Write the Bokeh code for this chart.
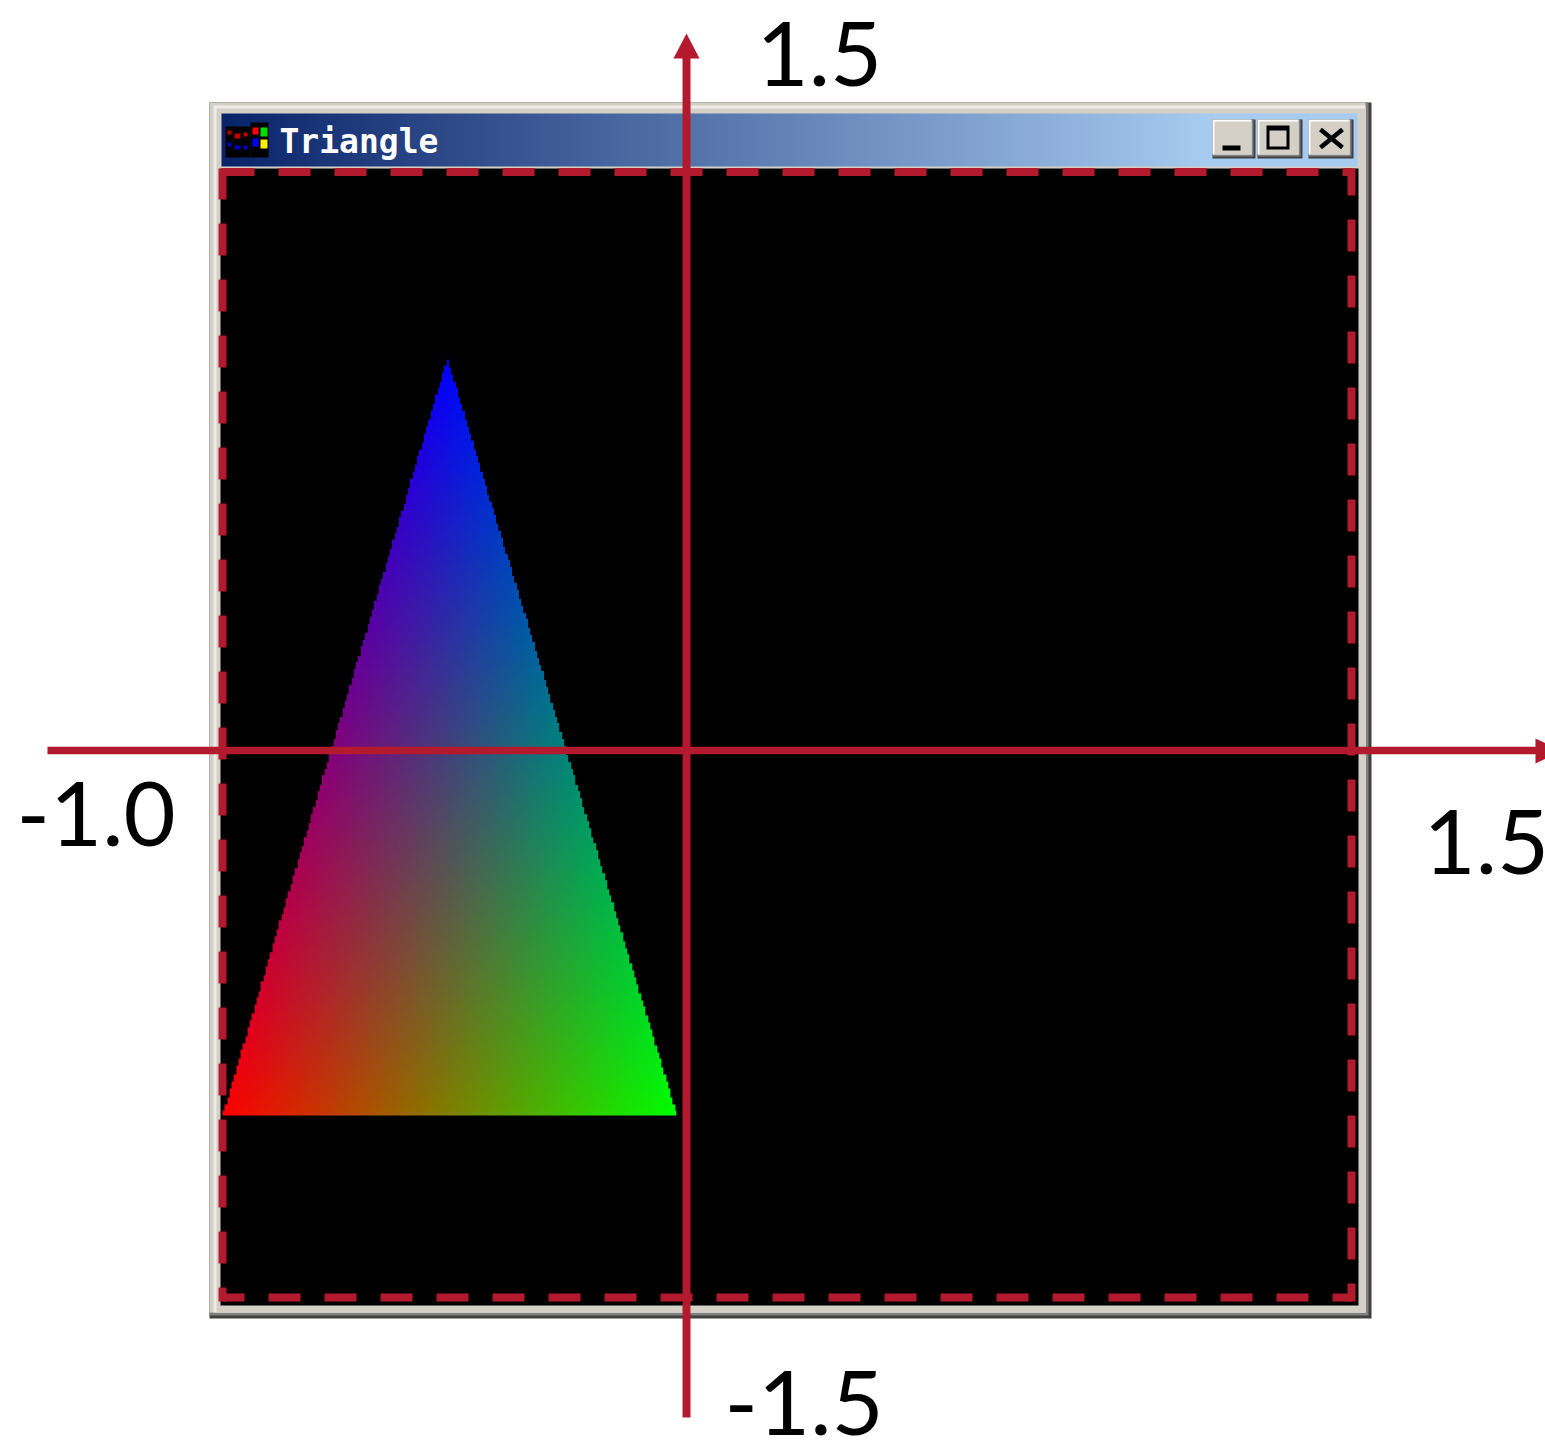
import numpy as np
from bokeh.plotting import figure
from bokeh.models import Range1d
from bokeh.core.properties import value
from bokeh.embed import file_html
from bokeh.resources import INLINE

# ---- values (OpenGL coordinates) ----
view_x = [-1.0, 1.5]
view_y = [-1.5, 1.5]
tri_x = [-1.0, 0.005, -0.503]
tri_y = [-1.015, -1.015, 1.0]
tri_rgb = [(255, 0, 0), (0, 255, 0), (0, 0, 255)]
axis_x_at = 0.0275
axis_y_at = -0.042
labels = ["1.5", "-1.0", "1.5", "-1.5"]
title = "Triangle"

RED = "#b41a2e"
FACE = "#d4d0c8"
W, H = 1545, 1445
OFF = 0
SX = 1129.0 / (view_x[1] - view_x[0])
SY = 1125.5 / (view_y[1] - view_y[0])
MID = 0.36  # half the digit height, as a fraction of the font size


def X(px):
    return view_x[0] + (px - 222.0) / SX


def Y(py):
    return view_y[1] - (py - 171.5) / SY


p = figure(width=W, height=H, output_backend="svg", toolbar_location=None,
           x_range=Range1d(X(OFF), X(OFF + W)), y_range=Range1d(Y(OFF + H), Y(OFF)),
           x_axis_location=None, y_axis_location=None, min_border=0,
           background_fill_color="white", border_fill_color="white",
           outline_line_color=None)
p.grid.visible = False


def box(x0, y0, x1, y1, color):
    p.quad(left=[X(x0)], right=[X(x1)], top=[Y(y0)], bottom=[Y(y1)],
           fill_color=color, line_color=None)


# ---- window frame ----
box(209, 102, 1371, 1318, "#404040")
box(209, 102, 1368, 1315, "#808080")
box(209, 102, 1365, 1312, FACE)
box(213, 105, 1365, 1312, "#eeece8")
box(216, 108, 1365, 1312, FACE)
box(220, 168, 1358, 1305, "black")

# ---- title bar gradient ----
c0 = np.array([10, 36, 106])
c1 = np.array([166, 202, 240])
n = 256
t = np.linspace(0, 1, n)
bar = np.zeros((1, n), dtype=np.uint32)
v = bar.view(dtype=np.uint8).reshape((1, n, 4))
for k in range(3):
    v[0, :, k] = (c0[k] + (c1[k] - c0[k]) * t).astype(np.uint8)
v[0, :, 3] = 255
box(1205, 113, 1357, 166, "#a6caf0")
p.image_rgba(image=[bar], x=[X(221)], y=[Y(166)], dw=[X(1206) - X(221)], dh=[Y(113) - Y(166)])

# ---- icon ----
box(225, 126, 250, 157, "black")
box(250, 122, 268, 157, "black")
for xs, ys, col in [((252, 258), (127, 134), "#ff0000"), ((260, 267), (127, 136), "#00e000"),
                    ((252, 258), (138, 146), "#0000ff"), ((260, 267), (139, 148), "#ffee00"),
                    ((227, 231), (130, 134), "#c00000"), ((234, 240), (133, 138), "#c00000"),
                    ((243, 247), (132, 136), "#c00000"), ((227, 231), (142, 146), "#0000c0"),
                    ((234, 240), (145, 149), "#0000c0"), ((243, 247), (145, 149), "#0000c0")]:
    box(xs[0], ys[0], xs[1], ys[1], col)

# ---- title text ----
p.text(x=[X(279)], y=[Y(153 - MID * 33)], text=[title], text_font=value("DejaVu Sans Mono"),
       text_font_style="bold", text_font_size="33px", text_color="white",
       text_baseline="middle", text_align="left")

# ---- window buttons ----
for x0, x1 in [(1212, 1255), (1257, 1302), (1308, 1353)]:
    box(x0, 119, x1, 158, "#404040")
    box(x0, 119, x1 - 2, 156, "#808080")
    box(x0, 119, x1 - 4, 154, "white")
    box(x0 + 2, 121, x1 - 4, 154, FACE)
box(1222, 145, 1240, 150, "black")
box(1266, 125, 1289, 149, "black")
box(1269, 130, 1286, 146, FACE)
p.segment(x0=[X(1320), X(1320)], y0=[Y(129), Y(147)], x1=[X(1342), X(1342)], y1=[Y(147), Y(129)],
          line_color="black", line_width=4.5)

# ---- colour-interpolated triangle ----
nx, ny = 201, 334
xs = tri_x[0] + (np.arange(nx) + 0.5) / nx * (tri_x[1] - tri_x[0])
ys = tri_y[0] + (np.arange(ny) + 0.5) / ny * (tri_y[2] - tri_y[0])
gx, gy = np.meshgrid(xs, ys)
d = (tri_y[1] - tri_y[2]) * (tri_x[0] - tri_x[2]) + (tri_x[2] - tri_x[1]) * (tri_y[0] - tri_y[2])
a = ((tri_y[1] - tri_y[2]) * (gx - tri_x[2]) + (tri_x[2] - tri_x[1]) * (gy - tri_y[2])) / d
b = ((tri_y[2] - tri_y[0]) * (gx - tri_x[2]) + (tri_x[0] - tri_x[2]) * (gy - tri_y[2])) / d
c = 1 - a - b
img = np.zeros((ny, nx), dtype=np.uint32)
rgba = img.view(dtype=np.uint8).reshape((ny, nx, 4))
for k in range(3):
    val = a * tri_rgb[0][k] + b * tri_rgb[1][k] + c * tri_rgb[2][k]
    rgba[:, :, k] = np.clip(val, 0, 255).astype(np.uint8)
rgba[:, :, 3] = np.where((a >= 0) & (b >= 0) & (c >= 0), 255, 0).astype(np.uint8)
p.image_rgba(image=[img], x=[tri_x[0]], y=[tri_y[0]], dw=[tri_x[1] - tri_x[0]], dh=[tri_y[2] - tri_y[0]])

# ---- dashed viewport ----
dash = "32 24"
p.line(x=[view_x[0], view_x[1]], y=[view_y[1], view_y[1]], line_color=RED, line_width=8,
       line_dash=dash, line_dash_offset=0)
p.line(x=[view_x[0], view_x[1]], y=[view_y[0], view_y[0]], line_color=RED, line_width=8,
       line_dash=dash, line_dash_offset=10)
p.line(x=[view_x[0], view_x[0]], y=[Y(168), Y(1301)], line_color=RED, line_width=8,
       line_dash=dash, line_dash_offset=1)
p.line(x=[view_x[1], view_x[1]], y=[Y(168), Y(1301)], line_color=RED, line_width=8,
       line_dash=dash, line_dash_offset=5)

# ---- axes ----
p.line(x=[axis_x_at, axis_x_at], y=[Y(55), Y(1417)], line_color=RED, line_width=8)
p.line(x=[X(47), X(1538)], y=[axis_y_at, axis_y_at], line_color=RED, line_width=7.5)
p.patch(x=[X(673), X(686), X(699)], y=[Y(58), Y(33), Y(58)], fill_color=RED, line_color=None)
p.patch(x=[X(1535), X(1561), X(1535)], y=[Y(738), Y(750.5), Y(763)], fill_color=RED, line_color=None)

# ---- axis value labels ----
SIZE = 90
lx = [X(756), X(16), X(1423), X(724)]
ly = [Y(py - MID * SIZE) for py in (86, 846, 874, 1435)]
p.text(x=lx, y=ly, text=labels, text_font=value("Lato"), text_font_size=f"{SIZE}px",
       text_color="black", text_baseline="middle", text_align="left")

open("out.html", "w").write(file_html(p, INLINE))
